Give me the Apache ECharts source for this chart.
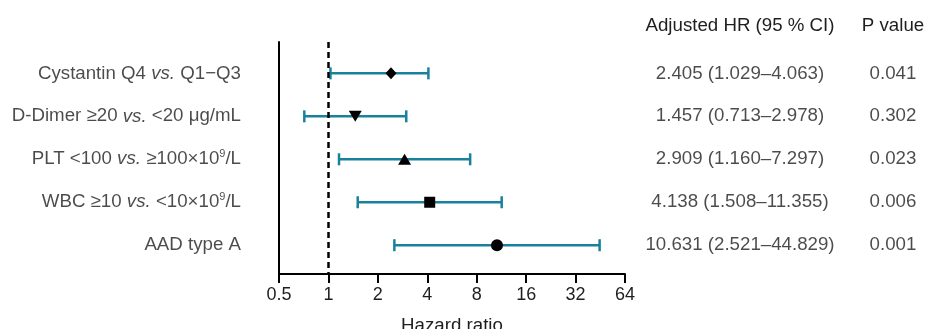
<!DOCTYPE html>
<html>
<head>
    <meta charset="UTF-8">
    <title>Hazard ratio</title>
    <script src="https://cdn.jsdelivr.net/npm/echarts@6/dist/echarts.min.js"></script>
    <style type="text/css">
        html, body { margin: 0; padding: 0; background: #fff; }
        #main { width: 925px; height: 329px; }
    </style>
</head>
<body>
<div id="main"></div>
<script>
    // data
    var categories = [
        'Cystantin Q4 {i|vs.} Q1\u2212Q3',
        'D-Dimer \u226520 {i|vs.} <20 \u03bcg/mL',
        'PLT <100 {i|vs.} \u2265100\u00d710{s|9}/L',
        'WBC \u226510 {i|vs.} <10\u00d710{s|9}/L',
        'AAD type A'
    ];
    var hr = [2.405, 1.457, 2.909, 4.138, 10.631];
    var ciLow = [1.029, 0.713, 1.160, 1.508, 2.521];
    var ciHigh = [4.063, 2.978, 7.297, 11.355, 44.829];
    var hrText = ['2.405 (1.029\u20134.063)', '1.457 (0.713\u20132.978)', '2.909 (1.160\u20137.297)',
        '4.138 (1.508\u201311.355)', '10.631 (2.521\u201344.829)'];
    var pValues = ['0.041', '0.302', '0.023', '0.006', '0.001'];
    var rows = [1, 2, 3, 4, 5];

    var markers = [
        {symbol: 'diamond', size: [11, 12], rotate: 0},
        {symbol: 'triangle', size: [13, 11], rotate: 180},
        {symbol: 'triangle', size: [13, 11], rotate: 0},
        {symbol: 'rect', size: [11, 11], rotate: 0},
        {symbol: 'circle', size: [12, 12], rotate: 0}
    ];

    var FONT = '"Liberation Sans", Arial, Helvetica, sans-serif';
    var FS = 18.7;
    var TXT = '#1e1e1e';
    var TEAL = '#1a819d';

    var chart = echarts.init(document.getElementById('main'));

    var option = {
        animation: false,
        grid: {left: 279, right: 300, top: 42, bottom: 55, containLabel: false, outerBoundsMode: 'none'},
        xAxis: {
            type: 'log',
            logBase: 2,
            min: 0.5,
            max: 64,
            splitNumber: 7,
            name: 'Hazard ratio',
            nameLocation: 'middle',
            nameGap: 42,
            nameTextStyle: {color: TXT, fontFamily: FONT, fontSize: FS, verticalAlign: 'top'},
            axisLine: {show: true, onZero: false, lineStyle: {color: '#000', width: 2}},
            axisTick: {show: true, length: 9, lineStyle: {color: '#000', width: 2}},
            axisLabel: {color: TXT, fontFamily: FONT, fontSize: 18, margin: 12},
            splitLine: {show: false},
            minorTick: {show: false}
        },
        yAxis: {
            type: 'value',
            min: 0.27,
            max: 5.67,
            inverse: true,
            axisLine: {show: true, onZero: false, lineStyle: {color: '#000', width: 2}},
            axisTick: {show: false},
            axisLabel: {show: false},
            splitLine: {show: false}
        },
        graphic: [
            {type: 'text', x: 740, y: 26, style: {text: 'Adjusted HR (95 % CI)', fill: TXT,
                    font: FS + 'px ' + FONT, textAlign: 'center', textVerticalAlign: 'middle'}},
            {type: 'text', x: 893, y: 26, style: {text: 'P value', fill: TXT,
                    font: FS + 'px ' + FONT, textAlign: 'center', textVerticalAlign: 'middle'}}
        ],
        series: [
            {
                // confidence intervals
                type: 'custom',
                clip: false,
                data: rows.map(function (r, i) { return [ciLow[i], ciHigh[i], r]; }),
                encode: {x: [0, 1], y: 2},
                renderItem: function (params, api) {
                    var a = api.coord([api.value(0), api.value(2)]);
                    var b = api.coord([api.value(1), api.value(2)]);
                    var h = 6;
                    var st = {stroke: TEAL, lineWidth: 2.5};
                    return {
                        type: 'group',
                        children: [
                            {type: 'line', shape: {x1: a[0], y1: a[1], x2: b[0], y2: b[1]}, style: st},
                            {type: 'line', shape: {x1: a[0], y1: a[1] - h, x2: a[0], y2: a[1] + h}, style: st},
                            {type: 'line', shape: {x1: b[0], y1: b[1] - h, x2: b[0], y2: b[1] + h}, style: st}
                        ]
                    };
                },
                markLine: {
                    silent: true,
                    symbol: 'none',
                    label: {show: false},
                    lineStyle: {color: '#000', type: [6, 4], width: 2.5},
                    data: [{xAxis: 1}]
                },
                z: 2
            },
            {
                // point estimates
                type: 'scatter',
                data: rows.map(function (r, i) {
                    return {
                        value: [hr[i], r],
                        symbol: markers[i].symbol,
                        symbolSize: markers[i].size,
                        symbolRotate: markers[i].rotate
                    };
                }),
                itemStyle: {color: '#000', opacity: 1},
                z: 3
            },
            {
                // row labels
                type: 'scatter',
                clip: false,
                symbolSize: 0,
                data: rows.map(function (r, i) { return [0.5, r, categories[i]]; }),
                label: {
                    show: true,
                    position: 'left',
                    distance: 38,
                    formatter: function (p) { return p.value[2]; },
                    color: TXT,
                    fontFamily: FONT,
                    fontSize: FS,
                    rich: {
                        i: {fontStyle: 'italic', color: TXT, fontFamily: FONT, fontSize: FS},
                        s: {color: TXT, fontFamily: FONT, fontSize: 11, padding: [0, 0, 10, 0]}
                    }
                },
                z: 4
            },
            {
                // HR column
                type: 'scatter',
                clip: false,
                symbolSize: 0,
                data: rows.map(function (r, i) { return [64, r, hrText[i]]; }),
                label: {
                    show: true,
                    position: [115, 0],
                    align: 'center',
                    verticalAlign: 'middle',
                    formatter: function (p) { return p.value[2]; },
                    color: TXT,
                    fontFamily: FONT,
                    fontSize: FS
                },
                z: 4
            },
            {
                // P value column
                type: 'scatter',
                clip: false,
                symbolSize: 0,
                data: rows.map(function (r, i) { return [64, r, pValues[i]]; }),
                label: {
                    show: true,
                    position: [268, 0],
                    align: 'center',
                    verticalAlign: 'middle',
                    formatter: function (p) { return p.value[2]; },
                    color: TXT,
                    fontFamily: FONT,
                    fontSize: FS
                },
                z: 4
            }
        ]
    };

    chart.setOption(option);
</script>
</body>
</html>
